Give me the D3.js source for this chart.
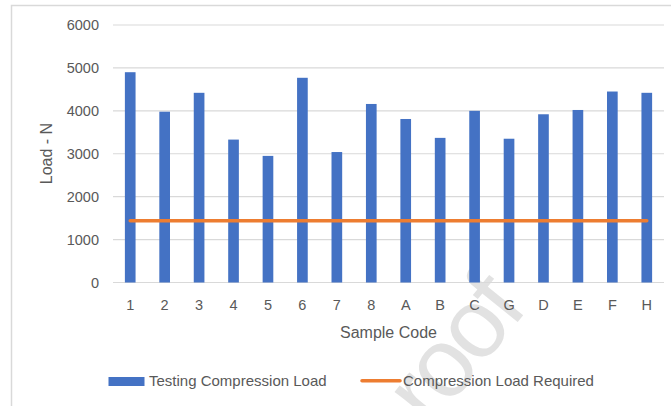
<!DOCTYPE html>
<html>
<head>
<meta charset="utf-8">
<script src="https://cdn.jsdelivr.net/npm/d3@7"></script>
<style>
  html, body { margin: 0; padding: 0; background: #ffffff; }
  svg { display: block; }
  text { font-family: "Liberation Sans", Arial, sans-serif; fill: #595959; }
</style>
</head>
<body>
<svg id="chart" width="671" height="406"></svg>
<script>
// ---- data ----
const categories = ["1","2","3","4","5","6","7","8","A","B","C","G","D","E","F","H"];
const testingLoad = [4900, 3980, 4420, 3330, 2950, 4770, 3040, 4160, 3810, 3370, 4000, 3350, 3920, 4020, 4450, 4420];
const requiredLoad = [1440, 1440, 1440, 1440, 1440, 1440, 1440, 1440, 1440, 1440, 1440, 1440, 1440, 1440, 1440, 1440];
const yTicks = [0, 1000, 2000, 3000, 4000, 5000, 6000];
const seriesNames = ["Testing Compression Load", "Compression Load Required"];
const xTitle = "Sample Code";
const yTitle = "Load - N";
const watermark = "roof";

// ---- layout ----
const W = 671, H = 406;
const plot = { left: 113, right: 664, top: 25, bottom: 282.5 };
const blue = "#4472C4", orange = "#ED7D31", grid = "#d9d9d9";

const svg = d3.select("#chart");

// chart frame
svg.append("rect")
  .attr("x", 11.5).attr("y", 5.5)
  .attr("width", 700).attr("height", 500)
  .attr("fill", "#ffffff")
  .attr("stroke", grid).attr("stroke-width", 1.5);

const x = d3.scaleBand().domain(categories).range([plot.left, plot.right]).padding(0);
const xBar = d3.scaleBand().domain(categories).range([plot.left, plot.right])
  .paddingInner(0.69).paddingOuter(0.345);
const y = d3.scaleLinear().domain([0, 6000]).range([plot.bottom, plot.top]);

// watermark (behind everything)
svg.append("text")
  .attr("transform", "translate(430.7,429.4) rotate(-51)")
  .attr("text-anchor", "start")
  .style("font-size", "98px")
  .style("letter-spacing", "-4px")
  .style("fill", "#e2e2e2")
  .text(watermark);

// gridlines
svg.append("g").selectAll("line").data(yTicks).join("line")
  .attr("x1", plot.left).attr("x2", plot.right)
  .attr("y1", d => y(d)).attr("y2", d => y(d))
  .attr("stroke", grid).attr("stroke-width", 1.2);

// y tick labels
svg.append("g").selectAll("text").data(yTicks).join("text")
  .attr("x", 99).attr("y", d => y(d))
  .attr("dy", "0.36em")
  .attr("text-anchor", "end")
  .style("font-size", "14.5px")
  .text(d => d);

// x tick labels
svg.append("g").selectAll("text").data(categories).join("text")
  .attr("x", d => x(d) + x.bandwidth() / 2)
  .attr("y", 305).attr("dy", "0.36em")
  .attr("text-anchor", "middle")
  .style("font-size", "14.5px")
  .text(d => d);

// bars
svg.append("g").selectAll("rect").data(categories).join("rect")
  .attr("x", d => xBar(d))
  .attr("width", xBar.bandwidth())
  .attr("y", (d, i) => y(testingLoad[i]))
  .attr("height", (d, i) => y(0) - y(testingLoad[i]))
  .attr("fill", blue);

// required line
const line = d3.line()
  .x((d, i) => x(categories[i]) + x.bandwidth() / 2)
  .y(d => y(d));
svg.append("path")
  .datum(requiredLoad)
  .attr("d", line)
  .attr("fill", "none")
  .attr("stroke", orange)
  .attr("stroke-width", 3.5)
  .attr("stroke-linecap", "round");

// axis titles
svg.append("text")
  .attr("x", (plot.left + plot.right) / 2).attr("y", 332).attr("dy", "0.36em")
  .attr("text-anchor", "middle")
  .style("font-size", "16px")
  .text(xTitle);

svg.append("text")
  .attr("transform", "translate(46.5,153.5) rotate(-90)")
  .attr("text-anchor", "middle").attr("dy", "0.36em")
  .style("font-size", "16px")
  .text(yTitle);

// legend
const lg = svg.append("g");
lg.append("rect")
  .attr("x", 108.5).attr("y", 377).attr("width", 36).attr("height", 9)
  .attr("fill", blue);
lg.append("text")
  .attr("x", 149).attr("y", 381).attr("dy", "0.36em")
  .style("font-size", "15px")
  .text(seriesNames[0]);
lg.append("line")
  .attr("x1", 362).attr("x2", 400).attr("y1", 380.7).attr("y2", 380.7)
  .attr("stroke", orange).attr("stroke-width", 3.5).attr("stroke-linecap", "round");
lg.append("text")
  .attr("x", 403).attr("y", 381).attr("dy", "0.36em")
  .style("font-size", "15px")
  .text(seriesNames[1]);
</script>
</body>
</html>
